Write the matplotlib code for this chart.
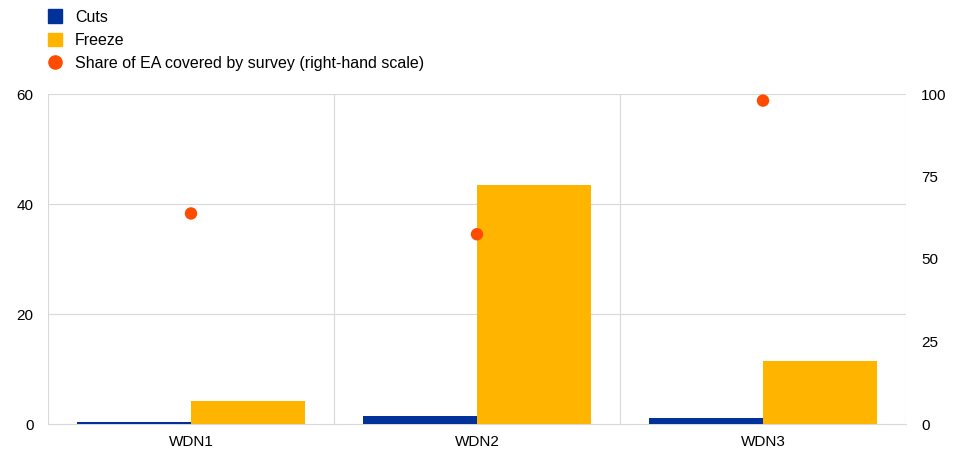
import matplotlib
matplotlib.use("Agg")
import matplotlib.pyplot as plt
import numpy as np
from matplotlib.lines import Line2D
from matplotlib.patches import Patch

plt.rcParams['font.family'] = ['Liberation Sans', 'DejaVu Sans']

categories = ["WDN1", "WDN2", "WDN3"]
cuts = [0.4, 1.5, 1.1]
freeze = [4.2, 43.5, 11.4]
share = [63.8, 57.5, 98.0]
left_ticks = [0, 20, 40, 60]
right_ticks = [0, 25, 50, 75, 100]

c_cuts = "#003299"
c_freeze = "#ffb400"
c_share = "#ff4b00"
grid_c = "#d9d9d9"

fig = plt.figure(figsize=(9.55, 4.5), dpi=100)
ax = fig.add_axes([48/955, 26/450, 858/955, 330/450])
x = np.arange(len(categories))
w = 0.4
ax.bar(x - w/2, cuts, width=w, color=c_cuts, zorder=3)
ax.bar(x + w/2, freeze, width=w, color=c_freeze, zorder=3)
ax.set_xlim(-0.5, len(categories) - 0.5)
ax.set_ylim(0, 60)
ax.set_yticks(left_ticks)
ax.set_xticks(x)
ax.set_xticklabels(categories)
for b in np.arange(-0.5, len(categories), 1.0):
    ax.axvline(b, color=grid_c, lw=0.8, zorder=1)
for t in left_ticks[1:]:
    ax.axhline(t, color=grid_c, lw=0.8, zorder=1)
for s in ["top", "right", "left"]:
    ax.spines[s].set_visible(False)
ax.spines["bottom"].set_color(grid_c)
ax.tick_params(axis="both", length=0, labelsize=11, colors="#000000")
ax.tick_params(axis="x", pad=8)
ax.tick_params(axis="y", pad=10.5)

ax2 = ax.twinx()
ax2.set_ylim(0, 100)
ax2.set_yticks(right_ticks)
ax2.scatter(x, share, s=80, color=c_share, zorder=4, edgecolors="none")
for s in ["top", "right", "left", "bottom"]:
    ax2.spines[s].set_visible(False)
ax2.tick_params(axis="y", length=0, labelsize=11, pad=11)

handles = [
    Patch(color=c_cuts, label="Cuts"),
    Patch(color=c_freeze, label="Freeze"),
    Line2D([], [], marker="o", linestyle="none", color=c_share, markersize=9.5, label="Share of EA covered by survey (right-hand scale)"),
]
fig.legend(handles=handles, loc="upper left", bbox_to_anchor=(0.0503, 0.979), frameon=False,
           fontsize=11.5, handlelength=0.9, handleheight=0.9, handletextpad=0.8, labelspacing=0.5,
           borderaxespad=0, borderpad=0)

fig.savefig("out.png", dpi=100)
